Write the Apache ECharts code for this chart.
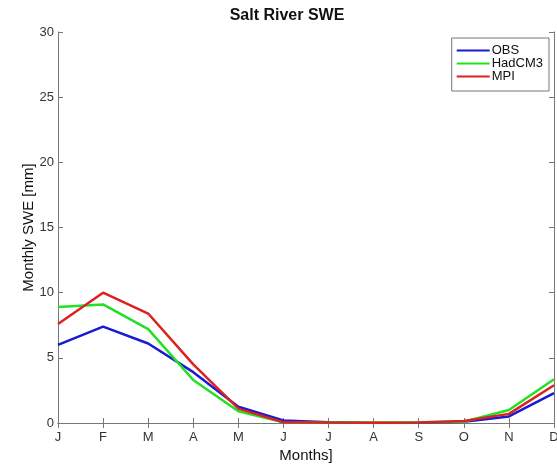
<!DOCTYPE html>
<html>
<head>
<meta charset="utf-8">
<script src="https://cdn.jsdelivr.net/npm/echarts@6/dist/echarts.min.js"></script>
<style>
  html, body { margin: 0; padding: 0; background: #fff; }
  #chart { width: 557px; height: 465px; }
</style>
</head>
<body>
<div id="chart"></div>
<script>
const months = ["J", "F", "M", "A", "M", "J", "J", "A", "S", "O", "N", "D"];
const obs = [6.0, 7.4, 6.1, 3.9, 1.25, 0.2, 0.05, 0.0, 0.02, 0.1, 0.5, 2.3];
const hadcm3 = [8.9, 9.1, 7.2, 3.3, 0.9, 0.05, 0.03, 0.03, 0.05, 0.1, 1.0, 3.35];
const mpi = [7.6, 10.0, 8.4, 4.5, 1.1, 0.05, 0.03, 0.02, 0.03, 0.15, 0.7, 2.9];
const yTicks = [0, 5, 10, 15, 20, 25, 30];

const font = "Liberation Sans";
const axisColor = "#777";

const chart = echarts.init(document.getElementById("chart"));

const lineSeries = (name, data, color) => ({
  name,
  type: "line",
  data,
  symbol: "none",
  lineStyle: { color, width: 2.5 },
  itemStyle: { color },
  xAxisIndex: 0,
  yAxisIndex: 0,
});

chart.setOption({
  animation: false,
  backgroundColor: "#fff",
  textStyle: { fontFamily: font },
  title: {
    text: "Salt River SWE",
    left: 282,
    top: 3,
    textAlign: "center",
    textStyle: { fontFamily: font, fontSize: 16, fontWeight: "bold", color: "#111" },
  },
  grid: { left: 58, right: 3, top: 32, bottom: 42, outerBoundsMode: "none" },
  legend: {
    orient: "vertical",
    right: 8,
    top: 38,
    icon: "rect",
    itemWidth: 33,
    itemHeight: 2,
    itemGap: 0,
    padding: [6, 6, 8, 5],
    borderColor: axisColor,
    borderWidth: 1,
    backgroundColor: "#fff",
    textStyle: { fontFamily: font, fontSize: 13, lineHeight: 13, height: 13, color: "#111", padding: [0, 0, 0, -3] },
    data: ["OBS", "HadCM3", "MPI"],
  },
  xAxis: [
    {
      type: "category",
      data: months,
      boundaryGap: false,
      name: "Months]",
      nameLocation: "middle",
      nameGap: 25,
      nameMoveOverlap: false,
      nameTextStyle: { fontFamily: font, fontSize: 15, color: "#111" },
      axisLine: { lineStyle: { color: axisColor } },
      axisTick: { inside: true, length: 5, lineStyle: { color: axisColor } },
      axisLabel: { margin: 8, fontFamily: font, fontSize: 13, color: "#333" },
      splitLine: { show: false },
    },
    {
      type: "category",
      data: months,
      position: "top",
      boundaryGap: false,
      axisLine: { lineStyle: { color: axisColor } },
      axisTick: { inside: true, length: 5, lineStyle: { color: axisColor } },
      axisLabel: { show: false },
      splitLine: { show: false },
    },
  ],
  yAxis: [
    {
      type: "value",
      min: yTicks[0],
      max: yTicks[yTicks.length - 1],
      interval: 5,
      name: "Monthly SWE [mm]",
      nameLocation: "middle",
      nameGap: 22,
      nameMoveOverlap: false,
      nameTextStyle: { fontFamily: font, fontSize: 15, color: "#111" },
      axisLine: { show: true, lineStyle: { color: axisColor } },
      axisTick: { show: true, inside: true, length: 5, lineStyle: { color: axisColor } },
      axisLabel: { margin: 4, fontFamily: font, fontSize: 13, color: "#333" },
      splitLine: { show: false },
    },
    {
      type: "value",
      position: "right",
      min: yTicks[0],
      max: yTicks[yTicks.length - 1],
      interval: 5,
      axisLine: { show: true, lineStyle: { color: axisColor } },
      axisTick: { show: true, inside: true, length: 5, lineStyle: { color: axisColor } },
      axisLabel: { show: false },
      splitLine: { show: false },
    },
  ],
  series: [
    lineSeries("OBS", obs, "#1a1ad0"),
    lineSeries("HadCM3", hadcm3, "#22e022"),
    lineSeries("MPI", mpi, "#dd2020"),
  ],
});

window.addEventListener("resize", () => {
  chart.resize();
});
</script>
</body>
</html>
